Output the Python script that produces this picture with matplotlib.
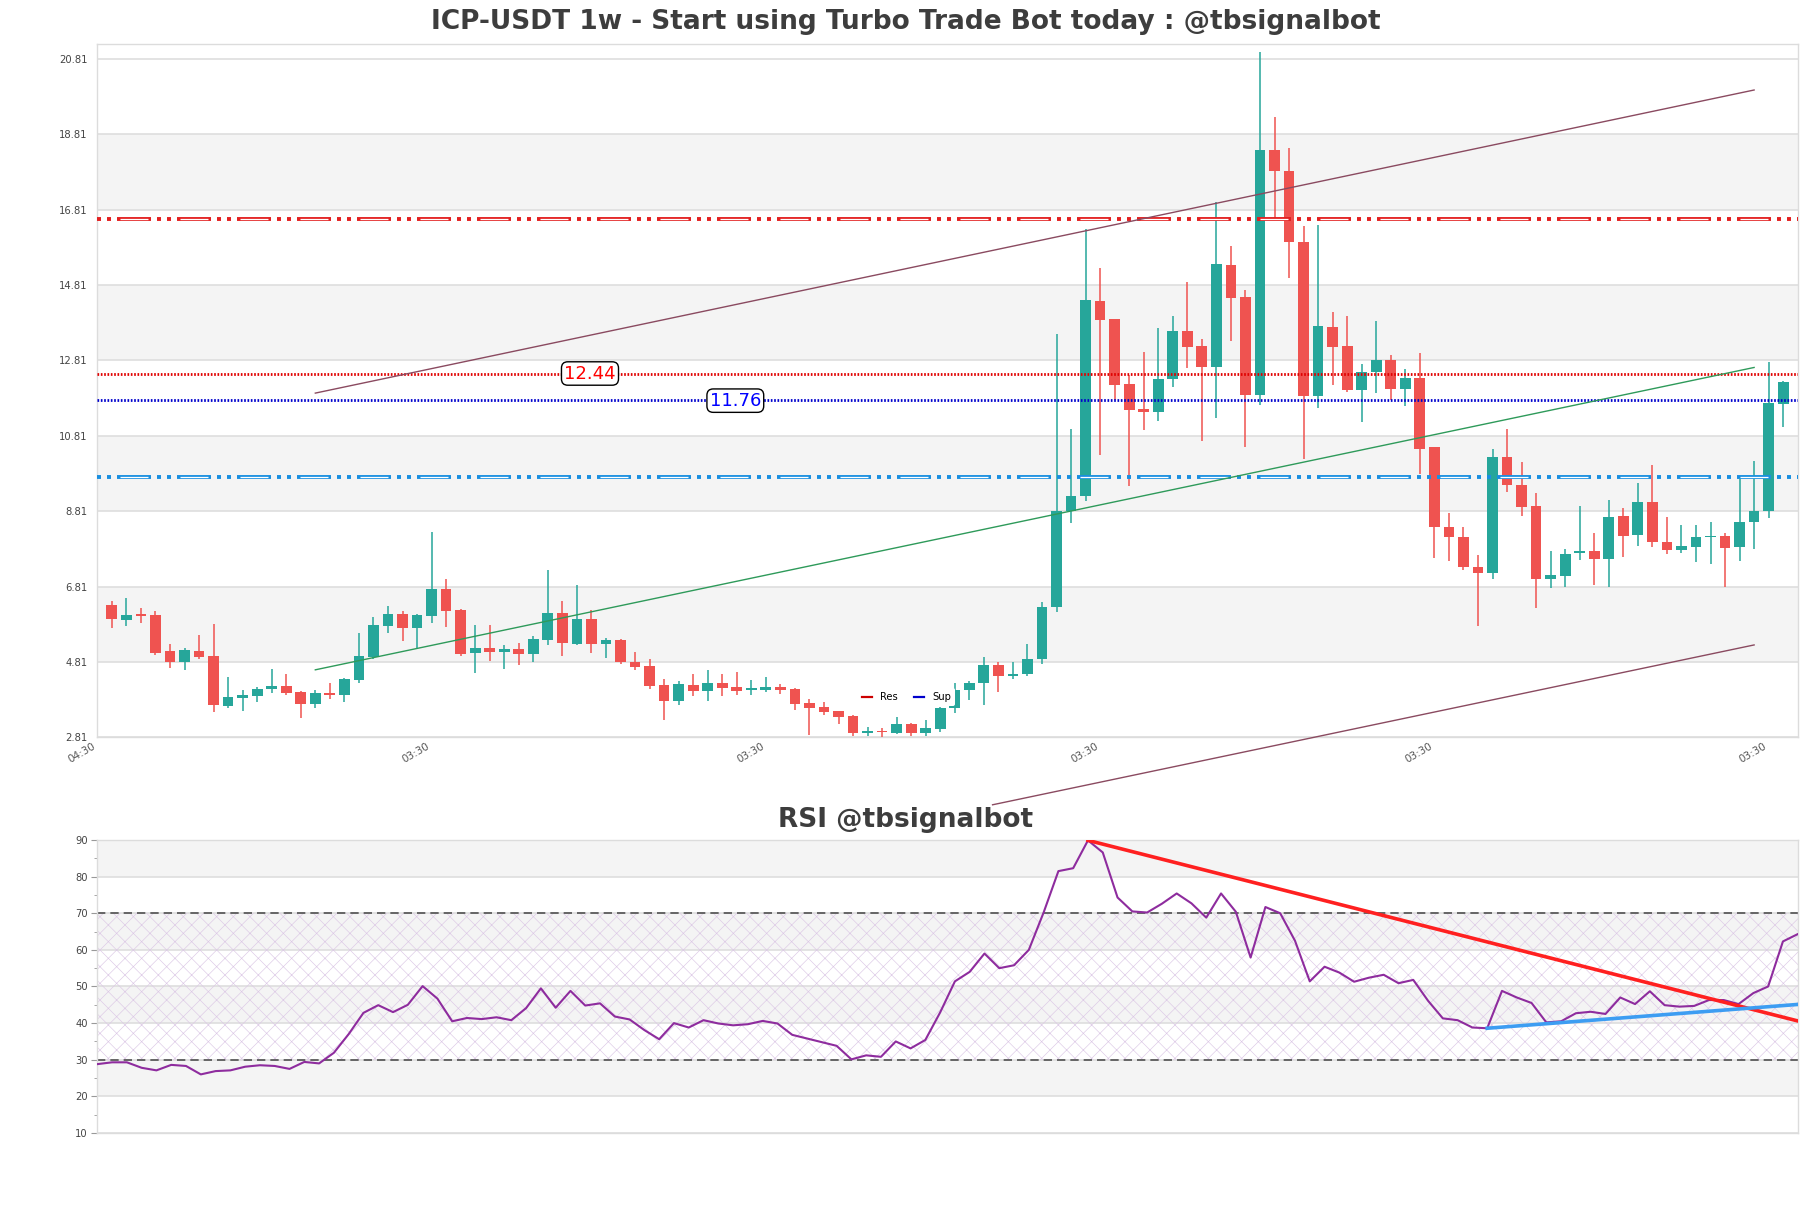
import matplotlib
matplotlib.use('Agg')
import matplotlib.pyplot as plt
import numpy as np
from matplotlib.lines import Line2D

# ---------------- data ----------------
opens = [6.32, 5.92, 6.05, 6.05, 5.10, 4.82, 5.10, 4.97, 3.65, 3.86,
         3.91, 4.10, 4.17, 4.00, 3.70, 3.99, 3.94, 4.34, 4.93, 5.76,
         6.08, 5.72, 6.04, 6.74, 6.18, 5.05, 5.18, 5.08, 5.15, 5.03,
         5.39, 6.12, 5.28, 5.95, 5.29, 5.39, 4.82, 4.70, 4.20, 3.78,
         4.19, 4.05, 4.25, 4.14, 4.07, 4.07, 4.14, 4.09, 3.72, 3.61,
         3.51, 3.37, 2.93, 2.99, 2.93, 3.15, 2.93, 3.04, 3.58, 4.06,
         4.24, 4.74, 4.44, 4.50, 4.88, 6.26, 8.80, 9.20, 14.38, 13.90,
         12.18, 11.52, 11.45, 12.31, 13.58, 13.19, 12.64, 15.33, 14.50, 11.90,
         18.40, 17.83, 15.95, 11.85, 13.69, 13.19, 12.02, 12.49, 12.81, 12.06,
         12.34, 10.50, 8.39, 8.13, 7.33, 7.18, 10.25, 9.51, 8.95, 7.00,
         7.09, 7.70, 7.76, 7.53, 8.68, 8.18, 9.06, 8.00, 7.79, 7.87,
         8.12, 8.15, 7.87, 8.51, 8.80, 11.66]
highs = [6.42, 6.50, 6.24, 6.16, 5.29, 5.18, 5.52, 5.82, 4.42, 4.06,
         4.15, 4.62, 4.49, 4.05, 4.06, 4.26, 4.37, 5.57, 5.99, 6.29,
         6.15, 6.07, 8.26, 7.00, 6.21, 5.79, 5.79, 5.27, 5.30, 5.50,
         7.25, 6.42, 6.85, 6.20, 5.44, 5.43, 5.06, 4.88, 4.35, 4.30,
         4.49, 4.59, 4.49, 4.54, 4.33, 4.41, 4.22, 4.13, 3.82, 3.75,
         3.51, 3.40, 3.09, 3.05, 3.34, 3.18, 3.27, 3.62, 4.26, 4.30,
         4.95, 4.80, 4.80, 5.29, 6.41, 13.50, 10.98, 16.29, 15.25, 13.90,
         12.43, 13.02, 13.68, 13.98, 14.89, 13.38, 17.00, 15.85, 14.68, 20.98,
         19.27, 18.43, 16.36, 16.39, 14.10, 13.98, 12.71, 13.85, 12.95, 12.59,
         13.01, 10.52, 8.77, 8.38, 7.65, 10.46, 11.00, 10.11, 9.28, 7.74,
         7.80, 8.95, 8.22, 9.11, 8.89, 9.56, 10.04, 8.66, 8.45, 8.45,
         8.53, 8.22, 9.66, 10.14, 12.77, 12.26]
lows = [5.70, 5.76, 5.85, 5.00, 4.66, 4.60, 4.88, 3.49, 3.60, 3.52,
        3.75, 3.99, 3.93, 3.33, 3.60, 3.82, 3.75, 4.24, 4.88, 5.58,
        5.36, 5.17, 5.85, 5.74, 4.97, 4.52, 4.83, 4.63, 4.74, 4.82,
        5.27, 4.97, 5.27, 5.05, 4.92, 4.76, 4.59, 4.09, 3.28, 3.68,
        3.91, 3.78, 3.91, 3.94, 3.94, 4.01, 3.97, 3.53, 2.87, 3.40,
        3.17, 2.84, 2.84, 2.83, 2.90, 2.84, 2.84, 2.96, 3.46, 3.80,
        3.68, 4.02, 4.36, 4.44, 4.76, 6.14, 8.50, 9.08, 10.31, 11.77,
        9.48, 10.96, 11.20, 12.10, 12.60, 10.67, 11.29, 13.31, 10.52, 11.62,
        16.58, 15.00, 10.19, 11.54, 12.16, 11.98, 11.17, 11.93, 11.77, 11.59,
        9.80, 7.56, 7.49, 7.24, 5.75, 7.02, 9.33, 8.68, 6.23, 6.77,
        6.81, 7.51, 6.86, 6.79, 7.58, 7.89, 7.85, 7.67, 7.69, 7.47,
        7.40, 6.80, 7.49, 7.80, 8.64, 11.04]
closes = [5.94, 6.05, 6.04, 5.05, 4.82, 5.13, 4.95, 3.68, 3.87, 3.93,
          4.10, 4.17, 3.99, 3.70, 3.98, 3.94, 4.36, 4.97, 5.79, 6.08,
          5.72, 6.05, 6.74, 6.17, 5.02, 5.18, 5.08, 5.15, 5.02, 5.41,
          6.12, 5.32, 5.95, 5.29, 5.38, 4.81, 4.68, 4.18, 3.78, 4.22,
          4.05, 4.25, 4.13, 4.05, 4.09, 4.14, 4.07, 3.70, 3.60, 3.49,
          3.35, 2.93, 2.99, 2.94, 3.15, 2.93, 3.05, 3.58, 4.06, 4.26,
          4.74, 4.44, 4.50, 4.88, 6.26, 8.82, 9.21, 14.41, 13.88, 12.16,
          11.50, 11.45, 12.31, 13.58, 13.17, 12.64, 15.36, 14.46, 11.90, 18.40,
          17.83, 15.95, 11.85, 13.71, 13.17, 12.02, 12.49, 12.81, 12.06, 12.34,
          10.47, 8.38, 8.11, 7.32, 7.18, 10.25, 9.50, 8.93, 7.00, 7.12,
          7.67, 7.76, 7.53, 8.66, 8.15, 9.06, 7.98, 7.79, 7.88, 8.13,
          8.15, 7.84, 8.53, 8.82, 11.68, 12.24]
rsi = [28.8, 29.3, 29.3, 27.8, 27.1, 28.6, 28.3, 26.0, 26.9, 27.1,
       28.1, 28.5, 28.3, 27.5, 29.4, 29.0, 31.9, 37.0, 42.8, 44.9,
       43.0, 45.0, 50.1, 46.7, 40.5, 41.4, 41.1, 41.6, 40.8, 44.1,
       49.5, 44.2, 48.8, 44.8, 45.4, 41.8, 41.0, 38.1, 35.6, 40.0,
       38.8, 40.8, 39.9, 39.4, 39.7, 40.6, 39.9, 36.8, 35.8, 34.8,
       33.8, 30.1, 31.2, 30.8, 35.0, 33.1, 35.4, 42.9, 51.4, 54.0,
       59.0, 55.0, 55.8, 60.0, 70.2, 81.5, 82.3, 89.9, 86.6, 74.3,
       70.5, 70.2, 72.6, 75.4, 72.7, 68.8, 75.4, 70.4, 57.9, 71.7,
       70.0, 62.5, 51.4, 55.4, 53.8, 51.3, 52.4, 53.2, 50.9, 51.8,
       46.1, 41.3, 40.8, 38.8, 38.6, 48.8, 47.0, 45.5, 40.2, 40.5,
       42.7, 43.1, 42.5, 47.0, 45.2, 48.7, 44.9, 44.5, 44.7, 46.3,
       46.3, 45.2, 48.2, 50.0, 62.3, 64.3]

price_ticks = [2.81, 4.81, 6.81, 8.81, 10.81, 12.81, 14.81, 16.81, 18.81, 20.81]
xtick_pos = [-1, 22, 45, 68, 91, 114]
xtick_labels = ['04:30', '03:30', '03:30', '03:30', '03:30', '03:30']
rsi_ticks = [10, 20, 30, 40, 50, 60, 70, 80, 90]

res_level = 12.44
sup_level = 11.76
res_zone = 16.57
sup_zone = 9.71
channel_upper_x = [14, 113]
channel_upper_y = [11.94, 19.98]
channel_mid_x = [14, 113]
channel_mid_y = [4.60, 12.62]
channel_lower_x = [60.6, 113]
channel_lower_y = [1.02, 5.26]
rsi_res_x = [67, 115]
rsi_res_y = [89.9, 40.6]
rsi_sup_x = [94, 115]
rsi_sup_y = [38.6, 45.1]

title = 'ICP-USDT 1w - Start using Turbo Trade Bot today : @tbsignalbot'
rsi_title = 'RSI @tbsignalbot'

# ---------------- figure ----------------
plt.rcParams['font.family'] = ['DejaVu Sans']
plt.rcParams['hatch.linewidth'] = 0.45
plt.rcParams['hatch.color'] = '#dcc8e6'

fig = plt.figure(figsize=(18.11, 12.08), dpi=100)
ax = fig.add_axes([0.05373, 0.38965, 0.93893, 0.57392])
ax2 = fig.add_axes([0.05373, 0.06209, 0.93893, 0.24255])

GREEN = '#26a69a'
RED = '#ef5350'
GRID = '#dedede'
BAND = '#f4f4f4'

n = len(opens)
x = np.arange(n)
o = np.array(opens); h = np.array(highs); l = np.array(lows); c = np.array(closes)
up = c >= o
cols = np.where(up, GREEN, RED)

# bands & grid
for a, b in [(1, 2), (3, 4), (5, 6), (7, 8)]:
    ax.axhspan(price_ticks[a], price_ticks[b], color=BAND, zorder=0, lw=0)
for t in price_ticks:
    ax.axhline(t, color=GRID, lw=1.2, zorder=0.5)

ax.vlines(x, l, h, colors=cols, lw=1.1, zorder=3)
body_b = np.minimum(o, c)
body_h = np.maximum(np.abs(c - o), 0.04)
ax.bar(x, body_h, bottom=body_b, width=0.74, color=cols, zorder=4, lw=0)

# support / resistance lines
ax.axhline(res_level, color='#e00000', lw=2.0, ls=(0, (0.6, 0.6)), zorder=5)
ax.axhline(sup_level, color='#0000cc', lw=2.0, ls=(0, (0.6, 0.6)), zorder=5)
ax.text(32.9, res_level + 0.02, '12.44', color='red', fontsize=13, ha='center', va='center', zorder=7,
        bbox=dict(boxstyle='round,pad=0.15,rounding_size=0.35', fc='white', ec='black', lw=1))
ax.text(42.9, sup_level - 0.02, '11.76', color='blue', fontsize=13, ha='center', va='center', zorder=7,
        bbox=dict(boxstyle='round,pad=0.15,rounding_size=0.35', fc='white', ec='black', lw=1))


def px_dashes(pattern_px, lw_pt, offset_px=0.0):
    k = 0.72 / lw_pt
    return (offset_px * k, tuple(p * k for p in pattern_px))


ZONE_LW = 2.8
WHITE_LW = 0.9
for lvl, colr in [(res_zone, '#e32020'), (sup_zone, '#1a8fe0')]:
    ax.axhline(lvl, color=colr, lw=ZONE_LW, ls=px_dashes([4, 6, 4, 6, 34, 6], ZONE_LW), zorder=5)
    ax.axhline(lvl, color='white', lw=WHITE_LW, ls=px_dashes([28, 32], WHITE_LW, 37), zorder=5.1)

# channel
ax.plot(channel_upper_x, channel_upper_y, color='#8a4a60', lw=1.0, zorder=6)
ax.plot(channel_mid_x, channel_mid_y, color='#2e9a5a', lw=1.0, zorder=6)
ax.plot(channel_lower_x, channel_lower_y, color='#8a4a60', lw=1.0, zorder=6, clip_on=False)

# legend
hs = [Line2D([], [], color='#cc0000', lw=1.6), Line2D([], [], color='#0000cc', lw=1.6)]
leg = ax.legend(hs, ['Res', 'Sup'], loc='center', bbox_to_anchor=(0.476, 0.058), ncol=2, fontsize=7.2,
                frameon=True, framealpha=1.0, edgecolor='none', facecolor='white', handlelength=1.0,
                columnspacing=1.6, handletextpad=0.8, borderpad=0.4)
leg.set_zorder(8)

ax.set_xlim(-1, n)
ax.set_ylim(2.81, 21.2)
ax.set_yticks(price_ticks)
ax.set_yticklabels([f'{t:.2f}' for t in price_ticks], fontsize=7.2, color='#444444')
ax.set_xticks(xtick_pos)
ax.set_xticklabels(xtick_labels, rotation=30, ha='right', fontsize=7.5, color='#555555')
ax.tick_params(axis='y', length=0, pad=7)
ax.tick_params(axis='x', length=0, pad=3)
for s in ax.spines.values():
    s.set_color('#dcdcdc')
    s.set_linewidth(1.0)

# ---------------- RSI ----------------
xr = np.arange(len(rsi))
for a, b in [(20, 30), (40, 50), (60, 70), (80, 90)]:
    ax2.axhspan(a, b, color=BAND, zorder=0, lw=0)
for t in rsi_ticks:
    ax2.axhline(t, color=GRID, lw=1.2, zorder=0.5)
ax2.fill_between([0, len(rsi) - 1], 30, 70, facecolor='none', hatch='xx', edgecolor='#dcc8e6', lw=0, zorder=1)
ax2.axhline(70, color='#505050', lw=1.2, ls=(0, (5, 3)), zorder=2)
ax2.axhline(30, color='#505050', lw=1.2, ls=(0, (5, 3)), zorder=2)
ax2.plot(xr, rsi, color='#8e2c9e', lw=1.5, zorder=4)
ax2.plot(rsi_res_x, rsi_res_y, color='#ff2020', lw=2.6, zorder=5)
ax2.plot(rsi_sup_x, rsi_sup_y, color='#3d9df2', lw=2.6, zorder=5)
ax2.set_xlim(0, len(rsi) - 1)
ax2.set_ylim(10, 90)
ax2.set_yticks(rsi_ticks)
ax2.set_yticks([15, 25, 35, 45, 55, 65, 75, 85], minor=True)
ax2.set_yticklabels([str(t) for t in rsi_ticks], fontsize=7.2, color='#444444')
ax2.set_xticks([])
ax2.tick_params(axis='y', which='major', length=4.3, color='#999999', pad=2.5)
ax2.tick_params(axis='y', which='minor', length=2.5, color='#999999')
for s in ax2.spines.values():
    s.set_color('#dcdcdc')
    s.set_linewidth(1.0)

fig.text(0.5, 1 - 22 / 1208, title, ha='center', va='center', fontsize=19, fontweight='bold', color='#3d3d3d')
fig.text(0.5, 1 - 820 / 1208, rsi_title, ha='center', va='center', fontsize=19, fontweight='bold', color='#3d3d3d')

fig.savefig('out.png', dpi=100)
